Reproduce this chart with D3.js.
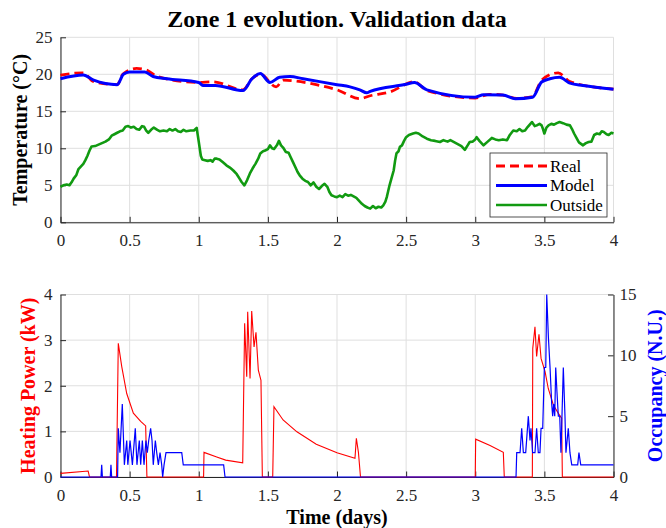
<!DOCTYPE html>
<html><head><meta charset="utf-8">
<script src="https://cdn.jsdelivr.net/npm/d3@7"></script>
<style>body{margin:0;background:#fff}svg{display:block}text{font-family:"Liberation Serif","Times New Roman",serif}</style>
</head><body><svg id="c" width="666" height="528"></svg>
<script>
// ---------- data ----------
const xTicks = [0, 0.5, 1, 1.5, 2, 2.5, 3, 3.5, 4];
const tempTicks = [0, 5, 10, 15, 20, 25];
const powerTicks = [0, 1, 2, 3, 4];
const occTicks = [0, 5, 10, 15];
const legendLabels = ["Real", "Model", "Outside"];

const realDays = [0, 0.165, 0.24, 0.41, 0.45, 0.55, 0.62, 0.7, 1.0, 1.1, 1.32, 1.385, 1.445, 1.56, 1.61, 1.85, 2.0, 2.166, 2.24, 2.38, 2.56, 2.65, 3.0, 3.1, 3.2, 3.3, 3.415, 3.48, 3.6, 3.685, 4.0];
const realTemp = [19.9, 20.2, 19.0, 18.6, 20.0, 20.8, 20.6, 19.7, 18.9, 19.0, 17.9, 19.4, 20.0, 18.3, 19.2, 18.6, 17.9, 16.7, 17.1, 17.6, 19.0, 17.8, 16.8, 17.3, 17.2, 16.75, 17.0, 19.2, 20.2, 19.0, 18.0];

const modelDays = [0, 0.165, 0.24, 0.41, 0.455, 0.5, 0.61, 0.67, 0.77, 1.0, 1.03, 1.12, 1.32, 1.385, 1.445, 1.515, 1.585, 1.66, 1.755, 2.0, 2.094, 2.165, 2.215, 2.24, 2.5, 2.56, 2.65, 3.0, 3.06, 3.2, 3.29, 3.415, 3.48, 3.54, 3.61, 3.685, 3.78, 4.0];
const modelTemp = [19.4, 19.9, 19.2, 18.6, 20.0, 20.3, 20.3, 19.7, 19.4, 18.9, 18.5, 18.5, 17.8, 19.4, 20.1, 18.9, 19.6, 19.7, 19.4, 18.6, 18.3, 17.9, 17.5, 17.7, 18.65, 18.9, 17.9, 16.9, 17.25, 17.2, 16.7, 16.9, 18.96, 19.4, 19.6, 18.8, 18.5, 17.97];

const outDays = [
  0,0.02,0.045,0.065,0.08,0.095,0.115,0.13,0.15,0.165,
  0.18,0.195,0.21,0.225,0.25,0.275,0.3,0.325,0.35,0.37,
  0.39,0.41,0.43,0.45,0.47,0.49,0.51,0.53,0.55,0.57,
  0.59,0.605,0.62,0.635,0.655,0.675,0.7,0.72,0.745,0.77,
  0.79,0.81,0.83,0.85,0.87,0.89,0.91,0.94,0.965,0.985,
  1.0,1.015,1.025,1.045,1.065,1.085,1.1,1.115,1.13,1.15,
  1.175,1.2,1.225,1.25,1.275,1.295,1.31,1.33,1.35,1.37,
  1.39,1.41,1.43,1.445,1.465,1.48,1.5,1.515,1.53,1.545,
  1.565,1.58,1.595,1.61,1.63,1.65,1.665,1.68,1.7,1.715,
  1.73,1.75,1.77,1.79,1.81,1.83,1.85,1.87,1.89,1.91,
  1.93,1.945,1.96,1.98,2.0,2.02,2.04,2.06,2.08,2.1,
  2.12,2.14,2.16,2.18,2.2,2.22,2.24,2.26,2.28,2.3,
  2.32,2.335,2.35,2.36,2.37,2.38,2.395,2.41,2.42,2.43,
  2.445,2.455,2.47,2.485,2.5,2.52,2.55,2.57,2.59,2.62,
  2.65,2.68,2.71,2.745,2.77,2.8,2.82,2.85,2.88,2.9,
  2.925,2.945,2.96,2.98,3.0,3.01,3.03,3.06,3.09,3.12,
  3.145,3.17,3.2,3.23,3.25,3.275,3.3,3.32,3.34,3.36,
  3.38,3.41,3.43,3.445,3.465,3.48,3.49,3.5,3.515,3.53,
  3.55,3.57,3.59,3.61,3.635,3.66,3.685,3.7,3.715,3.735,
  3.75,3.765,3.78,3.8,3.82,3.84,3.86,3.88,3.9,3.915,
  3.93,3.95,3.965,3.985,4.0];
const outTemp = [
  4.8,5.0,5.1,5.0,5.4,5.9,6.4,7.2,7.6,7.9,
  8.4,9.0,9.7,10.25,10.3,10.5,10.7,10.9,11.2,11.7,
  11.9,12.1,12.3,12.4,12.9,13.0,12.8,12.9,12.6,12.5,
  13.0,12.9,12.4,12.1,12.5,12.8,12.5,12.3,12.4,12.3,
  12.6,12.4,12.6,12.3,12.2,12.5,12.3,12.4,12.4,12.75,
  10.9,9.0,8.5,8.4,8.3,8.4,8.2,8.6,8.6,8.5,
  8.1,7.7,7.4,7.0,6.5,5.9,5.45,5.0,5.7,6.6,
  7.3,7.9,8.6,9.3,9.6,9.7,9.9,10.4,10.0,9.9,
  10.4,11.0,10.4,10.1,9.5,9.4,8.8,8.2,7.4,6.8,
  6.35,5.9,5.6,5.45,5.0,5.4,4.8,4.5,4.9,5.2,
  4.8,4.1,3.65,3.5,3.4,3.6,3.4,3.8,3.6,3.7,
  3.5,3.3,2.9,2.5,2.2,2.0,1.85,2.2,1.9,2.1,
  2.0,2.3,2.8,3.4,4.2,5.0,6.0,7.0,8.3,9.3,
  9.6,10.2,10.4,11.0,11.5,11.8,12.0,12.1,12.0,11.6,
  11.3,11.1,11.0,10.85,11.1,10.9,11.1,10.8,10.5,10.3,
  9.8,10.4,10.85,10.9,11.2,11.5,11.0,10.4,10.9,11.4,
  11.2,11.1,11.2,11.1,11.8,12.4,12.3,12.6,12.3,12.4,
  12.9,13.55,13.0,13.1,13.3,13.1,12.6,12.0,12.8,13.1,
  13.3,13.2,13.4,13.55,13.4,13.2,13.1,12.6,12.0,11.3,
  10.8,10.6,10.4,10.7,10.85,10.9,11.8,12.0,11.9,12.3,
  12.2,11.9,11.8,12.1,12.0];

const heatDays = [0, 0.2, 0.21, 0.405, 0.418, 0.443, 0.479, 0.527, 0.58, 0.616, 0.625, 1.035, 1.038, 1.13, 1.195, 1.318, 1.332, 1.347, 1.354, 1.371, 1.383, 1.4, 1.414, 1.431, 1.45, 1.46, 1.535, 1.544, 1.61, 1.71, 1.85, 2.0, 2.13, 2.14, 2.155, 2.17, 3.0, 3.003, 3.107, 3.203, 3.21, 3.413, 3.416, 3.432, 3.444, 3.461, 3.476, 3.505, 3.528, 3.565, 3.6, 3.625, 3.63, 4.0];
const heatKW = [0.08, 0.13, 0, 0, 2.93, 2.42, 1.83, 1.4, 1.22, 1.12, 0, 0, 0.54, 0.44, 0.37, 0.31, 3.37, 2.2, 3.62, 2.16, 3.64, 2.85, 3.17, 2.34, 2.12, 0, 0, 1.54, 1.25, 0.99, 0.72, 0.53, 0.41, 0.85, 0.54, 0, 0, 0.83, 0.69, 0.54, 0, 0, 2.82, 3.29, 2.64, 3.13, 2.6, 2.31, 1.94, 1.58, 1.4, 1.29, 0, 0];

const occDays = [0, 0.293, 0.298, 0.303, 0.36, 0.365, 0.37, 0.413, 0.418, 0.43, 0.447, 0.462, 0.479, 0.487, 0.503, 0.52, 0.541, 0.553, 0.57, 0.58, 0.592, 0.604, 0.618, 0.628, 0.638, 0.652, 0.662, 0.671, 0.686, 0.696, 0.708, 0.72, 0.732, 0.739, 0.749, 0.763, 0.877, 0.888, 1.18, 1.19, 3.295, 3.3, 3.324, 3.336, 3.348, 3.365, 3.384, 3.396, 3.403, 3.415, 3.432, 3.444, 3.456, 3.468, 3.476, 3.488, 3.5, 3.51, 3.517, 3.529, 3.541, 3.553, 3.56, 3.567, 3.575, 3.582, 3.591, 3.601, 3.611, 3.62, 3.637, 3.649, 3.656, 3.673, 3.685, 3.698, 3.741, 3.75, 3.763, 4.0];
const occVal = [0, 0, 1, 0, 0, 1, 0, 0, 4, 2, 6, 1, 3, 1, 3, 1, 4, 1, 3, 1, 3, 1, 3, 2, 3, 4, 3, 1, 3, 2, 1, 2, 1, 0, 1, 2, 2, 1, 1, 0, 0, 2, 2, 4, 2, 2, 5, 3, 4, 2, 2, 4, 2, 2, 4, 4, 9, 9, 15, 11.5, 9, 6, 5, 6, 5, 9, 7, 5, 5, 2, 9, 5, 2, 4, 2, 1, 1, 2, 1, 1];

// ---------- layout ----------
const svg = d3.select("#c");
const ink = "#262626", gridCol = "#dfdfdf";
const L = 60.5, R = 613.5;
const top1 = 37.3, bot1 = 222.3, top2 = 294.5, bot2 = 477;

const x = d3.scaleLinear().domain([0, 4]).range([L, R]);
const yT = d3.scaleLinear().domain([0, 25]).range([bot1, top1]);
const yP = d3.scaleLinear().domain([0, 4]).range([bot2, top2]);
const yO = d3.scaleLinear().domain([0, 15]).range([bot2, top2]);

function grid(yScale, yTicks, yTop, yBot) {
  const g = svg.append("g");
  g.selectAll(".vx").data(xTicks).join("line")
    .attr("x1", d => x(d)).attr("x2", d => x(d)).attr("y1", yTop).attr("y2", yBot)
    .attr("stroke", gridCol).attr("stroke-width", 1);
  g.selectAll(".hy").data(yTicks).join("line")
    .attr("x1", L).attr("x2", R).attr("y1", d => yScale(d)).attr("y2", d => yScale(d))
    .attr("stroke", gridCol).attr("stroke-width", 1);
}
function styleAxis(g, color) {
  g.select(".domain").attr("stroke", color).attr("stroke-width", 1);
  g.selectAll(".tick line").attr("stroke", color);
  g.selectAll(".tick text").attr("fill", ink).style("font-size", "17px")
    .style("font-family", '"Liberation Serif", serif');
}
function axes(yScale, yTicks, yBot) {
  const gx = svg.append("g").attr("transform", `translate(0,${yBot})`)
    .call(d3.axisBottom(x).tickValues(xTicks).tickFormat(d => String(d)).tickSizeInner(-5.5).tickSizeOuter(0).tickPadding(12));
  styleAxis(gx, ink);
  const gy = svg.append("g").attr("transform", `translate(${L},0)`)
    .call(d3.axisLeft(yScale).tickValues(yTicks).tickFormat(d => String(d)).tickSizeInner(-5.5).tickSizeOuter(0).tickPadding(8));
  styleAxis(gy, ink);
}

// ---------- top chart ----------
grid(yT, tempTicks, top1, bot1);
axes(yT, tempTicks, bot1);
const lineT = (days, vals) => d3.line().x((d, i) => x(days[i])).y((d, i) => yT(vals[i])).curve(d3.curveMonotoneX)(vals);
svg.append("path").attr("d", lineT(realDays, realTemp)).attr("fill", "none")
  .attr("stroke", "#ff0000").attr("stroke-width", 2.8).attr("stroke-dasharray", "9,5");
svg.append("path").attr("d", lineT(modelDays, modelTemp)).attr("fill", "none")
  .attr("stroke", "#0000ff").attr("stroke-width", 3);
svg.append("path").attr("d", d3.line().x((d, i) => x(outDays[i])).y((d, i) => yT(outTemp[i]))(outTemp)).attr("fill", "none")
  .attr("stroke", "#119a11").attr("stroke-width", 2.6).attr("stroke-linejoin", "round");

// legend
const lg = svg.append("g");
lg.append("rect").attr("x", 490).attr("y", 153).attr("width", 117).attr("height", 64)
  .attr("fill", "#fff").attr("stroke", ink).attr("stroke-width", 0.8);
const legStyles = [["#ff0000", "9,5", 2.8], ["#0000ff", null, 3], ["#119a11", null, 2.6]];
legendLabels.forEach((lab, i) => {
  const yy = 166 + i * 19.5;
  lg.append("line").attr("x1", 496).attr("x2", 547).attr("y1", yy).attr("y2", yy)
    .attr("stroke", legStyles[i][0]).attr("stroke-width", legStyles[i][2])
    .attr("stroke-dasharray", legStyles[i][1]);
  lg.append("text").attr("x", 550).attr("y", yy).attr("dy", "0.35em")
    .style("font-size", "17px").attr("fill", "#000").text(lab);
});

// ---------- bottom chart ----------
grid(yP, powerTicks, top2, bot2);
axes(yP, powerTicks, bot2);
const gr = svg.append("g").attr("transform", `translate(${R},0)`)
  .call(d3.axisRight(yO).tickValues(occTicks).tickFormat(d => String(d)).tickSizeInner(-5.5).tickSizeOuter(0).tickPadding(6));
styleAxis(gr, ink);

svg.append("path").attr("d", d3.line().x((d, i) => x(heatDays[i])).y((d, i) => yP(heatKW[i]))(heatKW))
  .attr("fill", "none").attr("stroke", "#ff0000").attr("stroke-width", 1.1);
svg.append("path").attr("d", d3.line().x((d, i) => x(occDays[i])).y((d, i) => yO(occVal[i]))(occVal))
  .attr("fill", "none").attr("stroke", "#0000ff").attr("stroke-width", 1.2);

// ---------- texts ----------
svg.append("text").attr("x", (L + R) / 2).attr("y", 27).attr("text-anchor", "middle")
  .style("font-size", "24px").style("font-weight", "bold").attr("fill", "#000")
  .text("Zone 1 evolution. Validation data");
svg.append("text").attr("transform", `translate(20,${(top1 + bot1) / 2}) rotate(-90)`)
  .attr("text-anchor", "middle").attr("dy", "0.35em")
  .style("font-size", "20px").style("font-weight", "bold").attr("fill", "#000")
  .text("Temperature (°C)");
svg.append("text").attr("transform", `translate(28,${(top2 + bot2) / 2}) rotate(-90)`)
  .attr("text-anchor", "middle").attr("dy", "0.35em")
  .style("font-size", "20px").style("font-weight", "bold").attr("fill", "#ff0000")
  .text("Heating Power (kW)");
svg.append("text").attr("transform", `translate(655,${(top2 + bot2) / 2}) rotate(-90)`)
  .attr("text-anchor", "middle").attr("dy", "0.35em")
  .style("font-size", "20px").style("font-weight", "bold").attr("fill", "#0000ff")
  .text("Occupancy (N.U.)");
svg.append("text").attr("x", (L + R) / 2).attr("y", 524).attr("text-anchor", "middle")
  .style("font-size", "20px").style("font-weight", "bold").attr("fill", "#000")
  .text("Time (days)");
</script></body></html>
